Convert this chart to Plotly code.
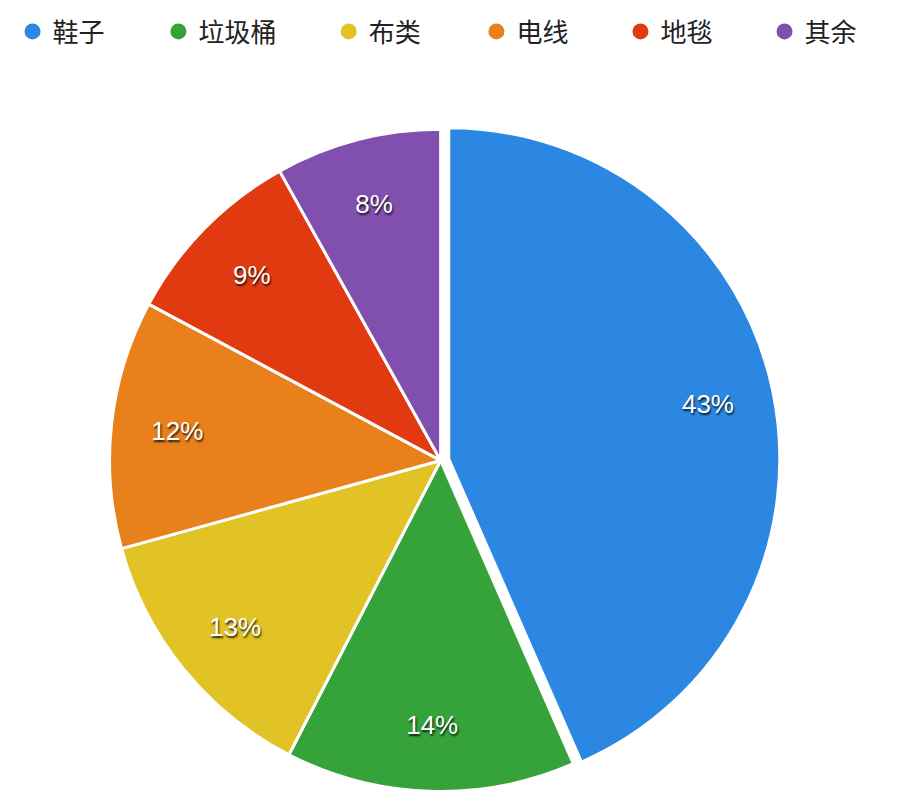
import plotly.graph_objects as go

# chart data
categories = ['鞋子', '垃圾桶', '布类', '电线', '地毯', '其余']
shares = [43, 14, 13, 12, 9, 8]
share_labels = ['43%', '14%', '13%', '12%', '9%', '8%']
slice_colors = ['#2b87e2', '#35a23a', '#e2c326', '#e8801b', '#e13a10', '#8150ae']
pulls = [0.025, 0, 0, 0, 0, 0]

FONT = 'Noto Sans CJK SC, Roboto, sans-serif'
PIE_DOMAIN = {'x': [0.101, 0.854], 'y': [0.025, 0.865]}

fig = go.Figure()

# coloured slices
fig.add_trace(go.Pie(
    labels=categories,
    values=shares,
    text=share_labels,
    textinfo='none',
    sort=False,
    direction='clockwise',
    rotation=0,
    pull=pulls,
    showlegend=False,
    marker={'colors': slice_colors, 'line': {'color': 'white', 'width': 3}},
    domain=PIE_DOMAIN,
    hoverinfo='label+text',
))

# transparent ring on top, only used to place the percentage labels further out
fig.add_trace(go.Pie(
    labels=categories,
    values=shares,
    text=share_labels,
    textinfo='text',
    sort=False,
    direction='clockwise',
    rotation=0,
    pull=pulls,
    hole=0.6,
    showlegend=False,
    marker={'colors': ['rgba(0,0,0,0)'] * len(categories), 'line': {'width': 0}},
    textposition='inside',
    insidetextorientation='horizontal',
    textfont={'family': 'Liberation Sans, Arial, sans-serif', 'size': 26, 'color': 'white',
              'shadow': '1px 2px 2px rgba(0,0,0,0.8)'},
    domain=PIE_DOMAIN,
    hoverinfo='skip',
))

# legend entries with round markers, one small legend each
legend_x = [0.005, 0.166, 0.354, 0.517, 0.676, 0.835]
for i, (name, color) in enumerate(zip(categories, slice_colors)):
    legend_id = 'legend' if i == 0 else f'legend{i + 1}'
    fig.add_trace(go.Scatter(
        x=[None], y=[None],
        mode='markers',
        name=name,
        marker={'symbol': 'circle', 'size': 17, 'color': color},
        showlegend=True,
        legend=legend_id,
    ))
    fig.update_layout({legend_id: {
        'orientation': 'h',
        'x': legend_x[i], 'xanchor': 'left',
        'y': 1.005, 'yanchor': 'top',
        'itemwidth': 30,
        'font': {'family': FONT, 'size': 26, 'color': '#222222'},
        'bgcolor': 'rgba(0,0,0,0)',
    }})

fig.update_layout(
    width=906,
    height=812,
    margin={'l': 0, 'r': 0, 't': 0, 'b': 0},
    paper_bgcolor='white',
    plot_bgcolor='white',
    xaxis={'visible': False},
    yaxis={'visible': False},
    font={'family': FONT, 'size': 24, 'color': '#222222'},
)

fig.write_html("out.html")
